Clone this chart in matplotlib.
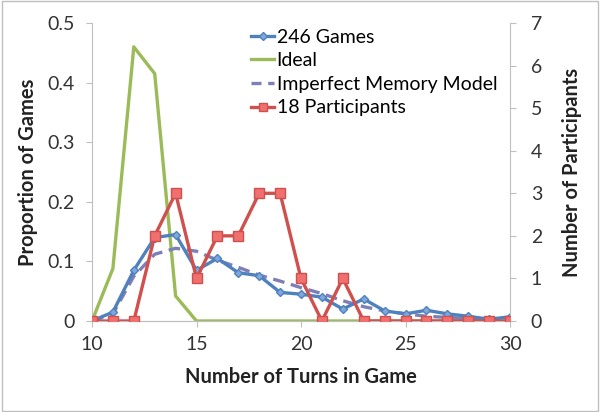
import matplotlib
matplotlib.use("Agg")
import matplotlib.pyplot as plt
from matplotlib.lines import Line2D

turns = list(range(10, 31))
games_246 = [0.0, 0.015, 0.085, 0.14, 0.145, 0.085, 0.105, 0.081, 0.076, 0.048, 0.045,
             0.040, 0.020, 0.037, 0.017, 0.012, 0.018, 0.012, 0.008, 0.003, 0.007]
ideal = [0.0, 0.088, 0.46, 0.415, 0.042, 0.0, 0.0, 0.0, 0.0, 0.0, 0.0,
         0.0, 0.0, 0.0, 0.0, 0.0, 0.0, 0.0, 0.0, 0.0, 0.0]
model = [0.0, 0.012, 0.075, 0.112, 0.122, 0.117, 0.102, 0.090, 0.077, 0.067, 0.056,
         0.046, 0.034, 0.024, 0.017, 0.012, 0.008, 0.006, 0.004, 0.002, 0.001]
participants = [0, 0, 0, 2, 3, 1, 2, 2, 3, 3, 1, 0, 1, 0, 0, 0, 0, 0, 0, 0, 0]
x_ticks = [10, 15, 20, 25, 30]
left_ticks = [0, 0.1, 0.2, 0.3, 0.4, 0.5]
left_tick_labels = ['0', '0.1', '0.2', '0.3', '0.4', '0.5']
right_ticks = [0, 1, 2, 3, 4, 5, 6, 7]
labels = ['246 Games', 'Ideal', 'Imperfect Memory Model', '18 Participants']

plt.rcParams['font.family'] = ['Lato', 'DejaVu Sans']

W, H = 600, 412
fig = plt.figure(figsize=(6.0, 4.12), dpi=100)
L, R, T, B = 92, 510, 23, 321
ax = fig.add_axes([L / W, 1 - B / H, (R - L) / W, (B - T) / H])
ax2 = ax.twinx()

blue = '#4F81BD'
green = '#9BBB59'
purple = '#7F7FB8'
red = '#CF504D'
lw = 2.4

ax.plot(turns, ideal, color=green, lw=lw, zorder=2)
ax.plot(turns, model, color=purple, lw=lw, dashes=(3.5, 2), zorder=3)
ax.plot(turns, games_246, color=blue, lw=lw, marker='D', ms=4,
        markerfacecolor='#7FA7DA', markeredgecolor=blue, zorder=4)
ax2.plot(turns, participants, color=red, lw=lw, marker='s', ms=7,
         markerfacecolor='#F07070', markeredgecolor=red, zorder=5)

ax.set_xlim(10, 30)
ax.set_ylim(0, 0.5)
ax2.set_ylim(0, 7)
ax.set_xticks(x_ticks)
ax.set_yticks(left_ticks)
ax.set_yticklabels(left_tick_labels)
ax2.set_yticks(right_ticks)

for a in (ax, ax2):
    for s in a.spines.values():
        s.set_color('#BFBFBF')
    a.spines['top'].set_visible(False)
    a.tick_params(colors='#BFBFBF', labelcolor='#333333', labelsize=14, length=4)
ax.spines['right'].set_visible(False)
ax2.spines['left'].set_visible(False)
ax.tick_params(axis='x', pad=6.5)
ax.tick_params(axis='y', pad=8.5)
ax2.tick_params(axis='y', pad=11)

lab_kw = dict(fontsize=14.5, fontweight='bold', color='#222222')
ax.set_xlabel('Number of Turns in Game', **lab_kw)
ax.set_ylabel('Proportion of Games', **lab_kw)
ax2.set_ylabel('Number of Participants', **lab_kw)
ax.xaxis.set_label_coords(0.5, (B - 377) / (B - T))
ax.yaxis.set_label_coords((28 - L) / (R - L), 0.5)
ax2.yaxis.set_label_coords((572 - L) / (R - L), 0.5)
for lab in (ax.xaxis.label, ax.yaxis.label, ax2.yaxis.label):
    lab.set_va('center')

handles = [
    Line2D([], [], color=blue, lw=lw, marker='D', ms=4, markerfacecolor='#7FA7DA'),
    Line2D([], [], color=green, lw=lw),
    Line2D([], [], color=purple, lw=lw, dashes=(3, 2)),
    Line2D([], [], color=red, lw=lw, marker='s', ms=6, markerfacecolor='#F07070'),
]
ax2.legend(handles, labels, loc='upper left',
           bbox_to_anchor=((251 - L) / (R - L), (B - 28.5) / (B - T)),
           frameon=False, fontsize=14, handlelength=1.2, handletextpad=0.12,
           labelspacing=0.34, borderpad=0, borderaxespad=0)

fig.patches.append(plt.Rectangle((0.003, 0.003), 0.994, 0.994, transform=fig.transFigure,
                                 fill=False, edgecolor='#BFBFBF', lw=1))

fig.savefig('out.png', dpi=100)
